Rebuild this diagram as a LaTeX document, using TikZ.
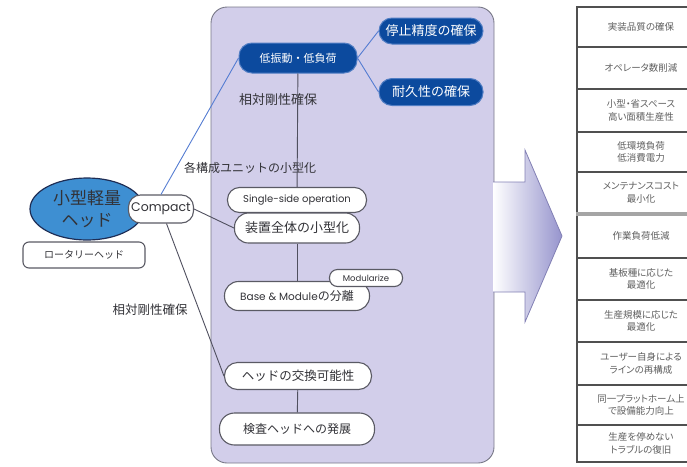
\documentclass[tikz,border=0pt]{standalone}
\usepackage{fontspec}
\usepackage{tikz}
\usetikzlibrary{shapes.geometric}
\setmainfont{Noto Sans CJK JP}
\newfontfamily\latinfont{Poppins}
\newfontfamily\kanafont[RawFeature=+palt]{Noto Sans CJK JP}

\definecolor{panelfill}{RGB}{210,206,234}
\definecolor{panelrim}{RGB}{120,120,135}
\definecolor{pillblue}{RGB}{12,74,158}
\definecolor{pillrim}{RGB}{80,125,195}
\definecolor{ellblue}{RGB}{62,143,210}
\definecolor{ellrim}{RGB}{30,45,85}
\definecolor{pillgray}{RGB}{90,90,100}
\definecolor{textgray}{RGB}{50,50,55}
\definecolor{linkgray}{RGB}{80,80,95}
\definecolor{linkblue}{RGB}{85,125,210}
\definecolor{arrowblue}{RGB}{150,148,205}
\definecolor{arrowrim}{RGB}{130,128,180}
\definecolor{rowgray}{RGB}{80,80,80}
\definecolor{rowtext}{RGB}{95,95,95}
\definecolor{gapgray}{RGB}{165,165,165}

\begin{document}
\begin{tikzpicture}[x=1pt,y=-1pt,
  pill/.style={shape=rectangle,rounded corners=12pt,draw=pillgray,fill=white,line width=1.1pt,text=textgray,inner sep=0pt},
  darkpill/.style={shape=rectangle,rounded corners=13pt,draw=pillrim,fill=pillblue,line width=1pt,text=white,inner sep=0pt,font=\fontsize{13}{15}\selectfont},
  tag/.style={text=textgray,inner sep=0pt},
  rowbox/.style={shape=rectangle,draw=rowgray,fill=white,line width=1.2pt,text=rowtext,minimum width=128pt,align=center,inner sep=0pt,font=\kanafont\fontsize{9.5}{12.5}\selectfont},
  link/.style={draw=linkgray,line width=0.9pt},
  bluelink/.style={draw=linkblue,line width=0.9pt}]

\useasboundingbox (0,0) rectangle (687,466);

% panel
\draw[draw=panelrim,fill=panelfill,rounded corners=16pt,line width=0.9pt] (211,7) rectangle (494,463);

% arrow
\shade[left color=white,right color=arrowblue] (493,182) -- (525,182) -- (525,150) -- (562,236) -- (525,322) -- (525,292) -- (493,292) -- cycle;
\draw[draw=arrowrim,line width=0.8pt] (493,182) -- (525,182) -- (525,150) -- (562,236) -- (525,322) -- (525,292) -- (493,292);

% left side
\node[shape=ellipse,draw=ellrim,fill=ellblue,line width=1.2pt,minimum width=114pt,minimum height=62pt,inner sep=0pt,align=center,text=textgray,font=\fontsize{17}{22}\selectfont] (Head) at (87,209) {小型軽量\\ヘッド};
\node[pill,minimum width=65pt,minimum height=28pt,font=\latinfont\fontsize{12.5}{14}\selectfont] (Compact) at (161,209) {Compact};
\node[pill,rounded corners=6pt,minimum width=122pt,minimum height=26pt,font=\fontsize{10}{12}\selectfont] (Rotary) at (84,255) {ロータリーヘッド};
\node[tag,font=\fontsize{12.5}{14}\selectfont] (RigidB) at (150,310) {相対剛性確保};

% panel contents
\node[darkpill,minimum width=118pt,minimum height=30pt,font=\fontsize{11}{13}\selectfont] (Low) at (298,58) {低振動・低負荷};
\node[darkpill,minimum width=104pt,minimum height=26pt] (Stop) at (431,31) {停止精度の確保};
\node[darkpill,minimum width=104pt,minimum height=27pt] (Dur) at (431,92) {耐久性の確保};
\node[tag,font=\fontsize{13}{15}\selectfont] (RigidA) at (278,100) {相対剛性確保};
\node[tag,font=\fontsize{12}{14}\selectfont] (Units) at (250,168) {各構成ユニットの小型化};
\node[pill,minimum width=139pt,minimum height=25pt,font=\latinfont\fontsize{10}{12}\selectfont] (Single) at (297,200) {Single-side operation};
\node[pill,rounded corners=14pt,minimum width=125pt,minimum height=30pt,font=\fontsize{13}{15}\selectfont] (Whole) at (297,228) {装置全体の小型化};
\node[pill,rounded corners=14pt,minimum width=145pt,minimum height=29pt,font=\fontsize{12}{14}\selectfont] (Base) at (297,296) {{\latinfont\fontsize{10.5}{14}\selectfont Base \& Module}の分離};
\node[pill,rounded corners=8pt,minimum width=73pt,minimum height=17pt,font=\latinfont\fontsize{8.5}{10}\selectfont] (Mod) at (366,278) {Modularize};
\node[pill,rounded corners=13pt,minimum width=147pt,minimum height=27pt,font=\fontsize{12.5}{14}\selectfont] (Exch) at (298,376) {ヘッドの交換可能性};
\node[pill,rounded corners=15pt,minimum width=155pt,minimum height=32pt,font=\fontsize{12}{14}\selectfont] (Insp) at (297,429) {検査ヘッドへの発展};

\path [bluelink] (Compact.north) edge (Low.west);
\path [bluelink] (Low.east) edge (Stop.west);
\path [bluelink] (Low.east) edge (Dur.west);
\path [link] (Low) edge (Single);
\path [link] (Whole) edge (Base);
\path [link] (Exch) edge (Insp);
\path [link] (Compact.east) edge (Whole.west);
\path [link] (Compact) edge (Exch.west);

% right column
\node[rowbox,minimum height=40pt] (R1) at (641,27) {実装品質の確保};
\node[rowbox,minimum height=42pt] (R2) at (641,68) {オペレータ数削減};
\node[rowbox,minimum height=43pt] (R3) at (641,110.5) {小型・省スペース\\高い面積生産性};
\node[rowbox,minimum height=40pt] (R4) at (641,152) {低環境負荷\\低消費電力};
\node[rowbox,minimum height=41pt] (R5) at (641,192.5) {メンテナンスコスト\\最小化};
\node[rowbox,minimum height=45pt] (R6) at (641,235.5) {作業負荷低減};
\node[rowbox,minimum height=42pt] (R7) at (641,279) {基板種に応じた\\最適化};
\node[rowbox,minimum height=42pt] (R8) at (641,321) {生産規模に応じた\\最適化};
\node[rowbox,minimum height=43pt] (R9) at (641,363.5) {ユーザー自身による\\ラインの再構成};
\node[rowbox,minimum height=40pt] (R10) at (641,405) {同一プラットホーム上\\で設備能力向上};
\node[rowbox,minimum height=37pt] (R11) at (641,443.5) {生産を停めない\\トラブルの復旧};
\draw[draw=gapgray,line width=4pt] (R5.south west) -- (R5.south east);

\end{tikzpicture}
\end{document}
